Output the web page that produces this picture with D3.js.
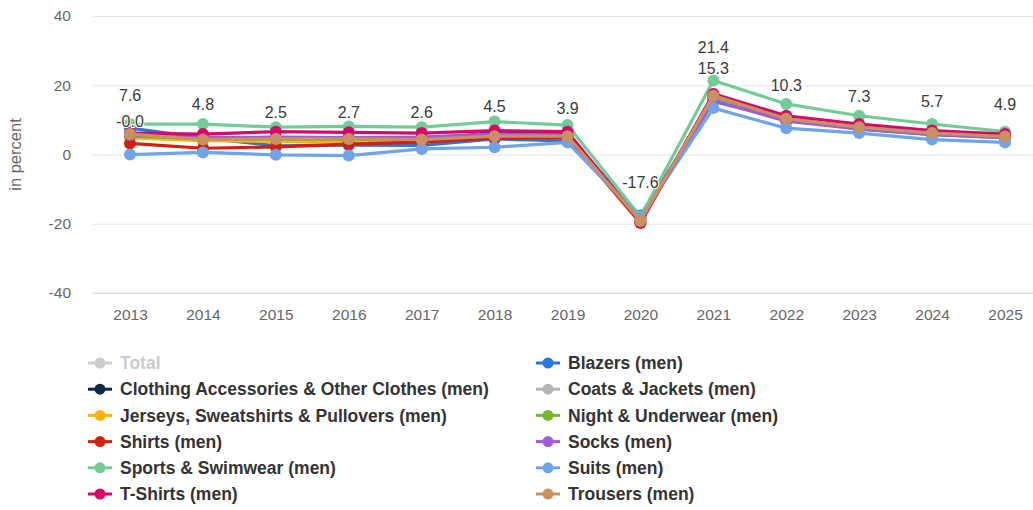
<!DOCTYPE html>
<html>
<head>
<meta charset="utf-8">
<script src="https://cdn.jsdelivr.net/npm/d3@7/dist/d3.min.js"></script>
<style>
  html, body { margin: 0; padding: 0; background: #fff; }
  svg { display: block; font-family: "Liberation Sans", Arial, Helvetica, sans-serif; }
</style>
</head>
<body>
<svg id="chart" width="1033" height="510"></svg>
<script>
// Year-over-year change of men's clothing revenue, in percent
const years = ["2013","2014","2015","2016","2017","2018","2019","2020","2021","2022","2023","2024","2025"];
const yTicks = [-40, -20, 0, 20, 40];

const blazers     = [7.6, 4.8, 2.5, 2.7, 2.6, 4.5, 3.9, -17.6, 15.3, 10.3, 7.3, 5.7, 4.9];
const accessories = [5.5, 4.5, 4.0, 3.8, 4.0, 6.5, 5.8, -18.4, 16.0, 10.0, 7.6, 6.0, 5.0];
const coats       = [5.2, 4.6, 4.3, 4.2, 4.0, 5.5, 5.0, -18.8, 16.5, 10.2, 7.8, 6.1, 5.1];
const jerseys     = [4.8, 4.0, 3.8, 3.6, 3.8, 5.0, 4.8, -18.9, 16.2, 10.0, 7.6, 6.0, 5.1];
const underwear   = [5.3, 4.6, 4.4, 4.3, 4.5, 5.6, 5.2, -19.1, 16.6, 10.4, 7.9, 6.3, 5.3];
const shirts      = [3.2, 1.8, 2.2, 3.0, 3.6, 4.7, 4.9, -19.8, 17.3, 9.8, 7.8, 6.2, 5.3];
const socks       = [5.6, 4.9, 5.0, 4.9, 5.0, 6.0, 5.6, -18.6, 15.6, 9.6, 7.4, 5.8, 4.9];
const sports      = [8.8, 8.8, 7.9, 8.1, 7.9, 9.5, 8.5, -18.0, 21.4, 14.6, 11.2, 8.8, 6.6];
const suits       = [-0.02, 0.6, -0.1, -0.3, 1.6, 2.1, 3.5, -18.3, 13.4, 7.6, 6.2, 4.3, 3.5];
const tshirts     = [6.2, 5.9, 6.6, 6.4, 6.2, 6.9, 6.6, -19.6, 17.5, 11.2, 8.8, 6.9, 5.9];
const trousers    = [5.9, 4.3, 4.5, 4.5, 4.3, 5.3, 5.3, -19.2, 17.0, 10.3, 7.9, 6.2, 5.2];

// Series in legend order; "Total" is switched off and only appears greyed in the legend
const series = [
  { name: "Total", color: "#cccccc", values: null, visible: false },
  { name: "Blazers (men)", color: "#2876dd", values: blazers, visible: true },
  { name: "Clothing Accessories & Other Clothes (men)", color: "#0e2a47", values: accessories, visible: true },
  { name: "Coats & Jackets (men)", color: "#b5b5b5", values: coats, visible: true },
  { name: "Jerseys, Sweatshirts & Pullovers (men)", color: "#ffb400", values: jerseys, visible: true },
  { name: "Night & Underwear (men)", color: "#76b82a", values: underwear, visible: true },
  { name: "Shirts (men)", color: "#d31e10", values: shirts, visible: true },
  { name: "Socks (men)", color: "#a05cd4", values: socks, visible: true },
  { name: "Sports & Swimwear (men)", color: "#73cb98", values: sports, visible: true },
  { name: "Suits (men)", color: "#6fa5e8", values: suits, visible: true },
  { name: "T-Shirts (men)", color: "#d6086a", values: tshirts, visible: true },
  { name: "Trousers (men)", color: "#c69262", values: trousers, visible: true }
];

const svg = d3.select("#chart");
const plotLeft = 93, plotRight = 1041, plotTop = 16, plotBottom = 293;

const x = d3.scalePoint().domain(years).range([130, 1005]);
const y = d3.scaleLinear().domain([-40, 40]).range([plotBottom, plotTop]);

// Horizontal grid + y tick labels
const yAxis = svg.append("g")
  .attr("transform", `translate(${plotLeft},0)`)
  .call(d3.axisLeft(y).tickValues(yTicks).tickFormat(d => String(d))
    .tickSize(-(plotRight - plotLeft)).tickPadding(22));
yAxis.select(".domain").remove();
yAxis.selectAll(".tick line").attr("stroke", "#e6e6e6");
yAxis.selectAll(".tick text").attr("fill", "#666").style("font-size", "15.5px");

// Category axis
const xAxis = svg.append("g")
  .attr("transform", `translate(0,${plotBottom})`)
  .call(d3.axisBottom(x).tickSize(0).tickPadding(16));
xAxis.select(".domain").attr("stroke", "#ccd6eb").attr("d", `M${plotLeft},0H${plotRight}`);
xAxis.selectAll(".tick text").attr("fill", "#666").style("font-size", "15.5px");

// Axis title
svg.append("text")
  .attr("transform", `translate(21,${(plotTop + plotBottom) / 2}) rotate(-90)`)
  .attr("text-anchor", "middle")
  .attr("fill", "#666")
  .style("font-size", "16.5px")
  .text("in percent");

// Lines and markers, one group per series so later series sit on top
const line = d3.line().x((d, i) => x(years[i])).y(d => y(d));
const visible = series.filter(s => s.visible);
visible.forEach(s => {
  const g = svg.append("g");
  g.append("path")
    .attr("d", line(s.values))
    .attr("fill", "none")
    .attr("stroke", s.color)
    .attr("stroke-width", 3.2)
    .attr("stroke-linejoin", "round");
  g.selectAll("circle").data(s.values).join("circle")
    .attr("cx", (d, i) => x(years[i]))
    .attr("cy", d => y(d))
    .attr("r", 6)
    .attr("fill", s.color);
});

// Data labels: placed above each point, skipping any that would collide with one already shown
const labelOffset = 33, labelBoxH = 20, labelBoxW = 36;
const placed = [];
const labels = [];
visible.forEach(s => {
  s.values.forEach((v, i) => {
    const cx = x(years[i]), cy = y(v) - labelOffset;
    const clash = placed.some(p => Math.abs(p.cx - cx) < labelBoxW && Math.abs(p.cy - cy) < labelBoxH);
    if (!clash) {
      placed.push({ cx, cy });
      labels.push({ cx, cy, text: v.toFixed(1) });
    }
  });
});
svg.append("g").selectAll("text").data(labels).join("text")
  .attr("x", d => d.cx)
  .attr("y", d => d.cy)
  .attr("dy", "0.35em")
  .attr("text-anchor", "middle")
  .attr("fill", "#3a3a3a")
  .attr("stroke", "#fff")
  .attr("stroke-width", 2)
  .attr("paint-order", "stroke")
  .style("font-size", "16px")
  .text(d => d.text);

// Legend: two columns, filled row by row
const legend = svg.append("g");
const colX = [100, 548], rowY0 = 363, rowH = 26.2;
series.forEach((s, i) => {
  const cx = colX[i % 2], cy = rowY0 + Math.floor(i / 2) * rowH;
  const c = s.visible ? s.color : "#cccccc";
  const item = legend.append("g");
  item.append("line")
    .attr("x1", cx - 12).attr("x2", cx + 12)
    .attr("y1", cy).attr("y2", cy)
    .attr("stroke", c).attr("stroke-width", 3);
  item.append("circle").attr("cx", cx).attr("cy", cy).attr("r", 5.5).attr("fill", c);
  item.append("text")
    .attr("x", cx + 20).attr("y", cy).attr("dy", "0.35em")
    .attr("fill", s.visible ? "#333" : "#cccccc")
    .style("font-size", "17.5px").style("font-weight", "bold")
    .text(s.name);
});
</script>
</body>
</html>
